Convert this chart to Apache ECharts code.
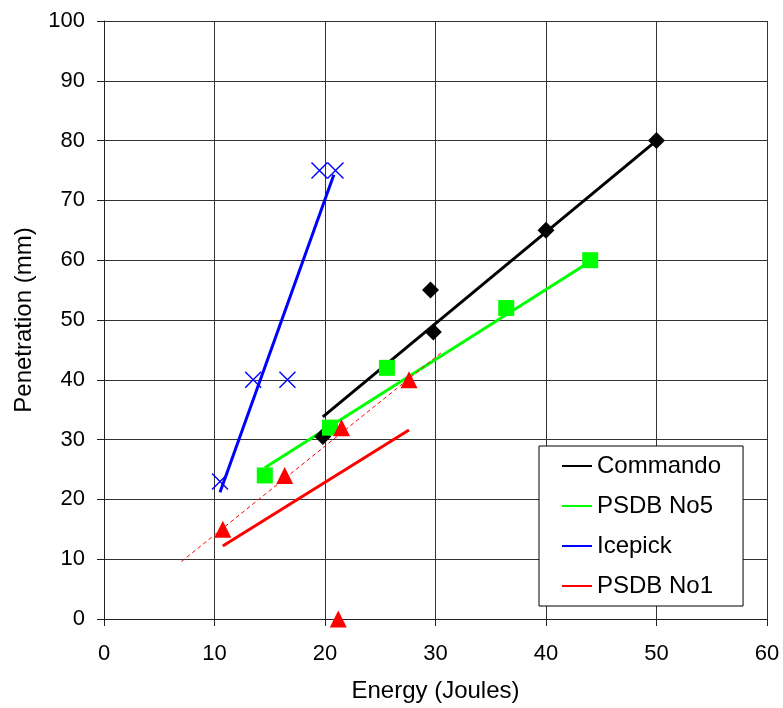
<!DOCTYPE html>
<html>
<head>
<meta charset="utf-8">
<script src="https://cdn.jsdelivr.net/npm/echarts@6/dist/echarts.min.js"></script>
<style>
  html, body { margin: 0; padding: 0; background: #fff; }
  #chart { width: 783px; height: 708px; }
</style>
</head>
<body>
<div id="chart"></div>
<script>
// Measured penetration depth against impact energy for four blade types
const commandoX = [19.8, 29.55, 29.8, 40, 50];
const commandoY = [30.5, 55, 48, 65, 80];
const psdb5X = [14.55, 20.45, 25.6, 36.4, 44];
const psdb5Y = [24, 32, 42, 52, 60];
const icepickX = [10.5, 13.5, 16.6, 19.5, 20.95];
const icepickY = [23, 40, 40, 75, 75];
const psdb1X = [10.75, 16.35, 21.5, 27.6, 21.2];
const psdb1Y = [15, 24, 32, 40, 0];

// Linear trend lines (start and end points)
const commandoFit = [[19.8, 33.8], [50, 80]];
const psdb5Fit = [[14.55, 25.3], [44, 59.8]];
const icepickFit = [[10.5, 21.2], [20.8, 74.3]];
const psdb1Fit = [[10.75, 12.2], [27.6, 31.6]];
const psdb1FitExcl = [[7, 9.6], [30.5, 44.5]];

const xTicks = [0, 10, 20, 30, 40, 50, 60];
const yTicks = [0, 10, 20, 30, 40, 50, 60, 70, 80, 90, 100];
const seriesNames = ['Commando', 'PSDB No5', 'Icepick', 'PSDB No1'];

const FONT = 'Liberation Sans, Arial, sans-serif';
const pairs = (xs, ys) => xs.map((x, i) => [x, ys[i]]);
const crossPath = 'path://M0,0L10,10M10,0L0,10';
// Short horizontal bar used as the legend key
const legendLine = 'path://M0,0L30,0L30,2L0,2Z';

const fitLine = (name, data, color) => ({
  name, type: 'line', data, symbol: 'none', z: 2,
  lineStyle: { color, width: 3 }, itemStyle: { color }
});
const markers = (name, data, symbol, color, extra) => Object.assign({
  name, type: 'scatter', data, symbol, symbolSize: 16, clip: false, z: 4,
  itemStyle: { color, opacity: 1 }
}, extra || {});

const chart = echarts.init(document.getElementById('chart'), null, { renderer: 'canvas' });
chart.setOption({
  animation: false,
  backgroundColor: '#fff',
  textStyle: { fontFamily: FONT, color: '#000' },
  grid: { left: 104, right: 16, top: 21, bottom: 88, containLabel: false },
  xAxis: {
    type: 'value', min: xTicks[0], max: xTicks[xTicks.length - 1], interval: 10,
    name: 'Energy (Joules)', nameLocation: 'middle', nameGap: 60,
    nameTextStyle: { fontFamily: FONT, fontSize: 24, color: '#000' },
    axisLine: { lineStyle: { color: '#222', width: 1 } },
    axisTick: { show: true, length: 7, lineStyle: { color: '#222' } },
    axisLabel: { fontFamily: FONT, fontSize: 22, color: '#000', margin: 24 },
    splitLine: { show: true, lineStyle: { color: '#333', width: 1 } }
  },
  yAxis: {
    type: 'value', min: yTicks[0], max: yTicks[yTicks.length - 1], interval: 10,
    name: 'Penetration (mm)', nameLocation: 'middle', nameGap: 68, nameRotate: 90,
    nameTextStyle: { fontFamily: FONT, fontSize: 24, color: '#000' },
    axisLine: { show: true, lineStyle: { color: '#222', width: 1 } },
    axisTick: { show: true, length: 7, lineStyle: { color: '#222' } },
    axisLabel: { fontFamily: FONT, fontSize: 22, color: '#000', margin: 19 },
    splitLine: { show: true, lineStyle: { color: '#333', width: 1 } }
  },
  legend: {
    orient: 'vertical', left: 539, top: 446,
    data: seriesNames.map(name => ({ name, icon: legendLine })),
    itemWidth: 30, itemHeight: 24, itemGap: 16,
    padding: [8, 22, 8, 23],
    backgroundColor: '#fff', borderColor: '#000', borderWidth: 1, borderRadius: 0,
    textStyle: { fontFamily: FONT, fontSize: 24, color: '#000' }
  },
  series: [
    fitLine(seriesNames[0], commandoFit, '#000000'),
    fitLine(seriesNames[1], psdb5Fit, '#00ff00'),
    fitLine(seriesNames[2], icepickFit, '#0000ff'),
    fitLine(seriesNames[3], psdb1Fit, '#ff0000'),
    {
      name: 'PSDB No1 (excl. zero)', type: 'line', data: psdb1FitExcl, symbol: 'none', z: 2,
      lineStyle: { color: '#ff0000', width: 1, type: [4, 3] }
    },
    markers('Commando data', pairs(commandoX, commandoY), 'diamond', '#000000', { symbolSize: 17 }),
    markers('PSDB No5 data', pairs(psdb5X, psdb5Y), 'rect', '#00ff00'),
    markers('Icepick data', pairs(icepickX, icepickY), crossPath, 'transparent', {
      itemStyle: { color: 'transparent', borderColor: '#0000ff', borderWidth: 1.4, opacity: 1 }
    }),
    markers('PSDB No1 data', pairs(psdb1X, psdb1Y), 'triangle', '#ff0000', { symbolSize: 17 })
  ]
});
</script>
</body>
</html>
